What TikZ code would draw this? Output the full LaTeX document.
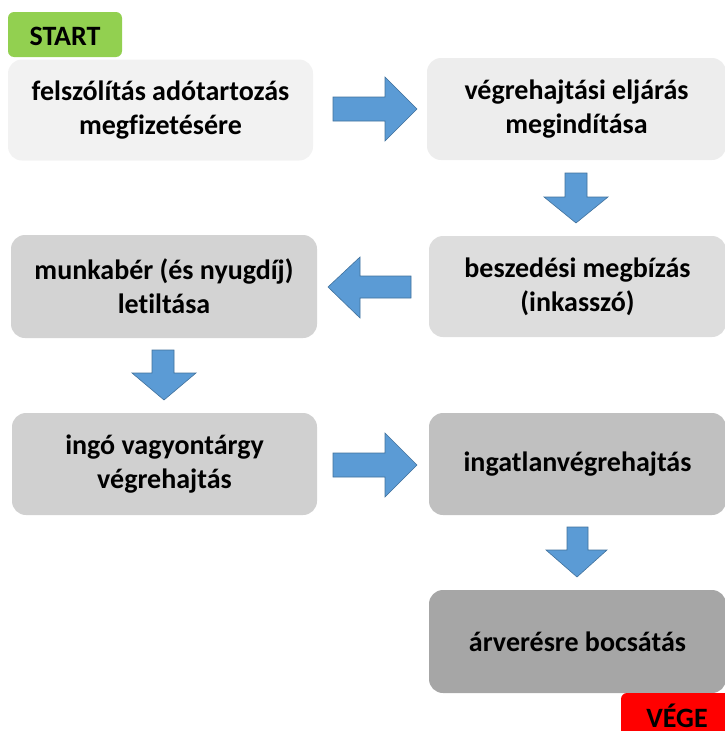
\documentclass[tikz,border=0pt]{standalone}
\usepackage{fontspec}
\setmainfont{Carlito}[Ligatures={NoCommon,NoRare}]
\definecolor{startgreen}{HTML}{92D050}
\definecolor{endred}{HTML}{FF0000}
\definecolor{arrowblue}{HTML}{5B9BD5}
\definecolor{arrowedge}{HTML}{41719C}
\definecolor{gA}{HTML}{F2F2F2}
\definecolor{gB}{HTML}{EDEDED}
\definecolor{gC}{HTML}{DDDDDD}
\definecolor{gD}{HTML}{D3D3D3}
\definecolor{gE}{HTML}{D0D0D0}
\definecolor{gF}{HTML}{C0C0C0}
\definecolor{gG}{HTML}{A6A6A6}
\begin{document}
\begin{tikzpicture}[x=1pt,y=-1pt,
  box/.style={rectangle, rounded corners=14pt, inner sep=0pt, align=center,
    font=\fontsize{28}{34}\selectfont\bfseries},
  tag/.style={rectangle, rounded corners=6pt, inner sep=0pt},
  tagtext/.style={font=\fontsize{28}{30}\selectfont\bfseries, inner sep=0pt, anchor=base, text depth=0pt},
  blockarrow/.style={fill=arrowblue, draw=arrowedge, line width=0.6pt, line join=miter}]
\useasboundingbox (0,0) rectangle (725,731);
\clip (0,0) rectangle (725,731);

% start tag
\node[tag, fill=startgreen, minimum width=114pt, minimum height=45pt] (start) at (65,34.5) {};
\node[tagtext] (starttxt) at (65,45) {START};

% boxes
\node[box, fill=gA, minimum width=305pt, minimum height=101pt] (b1) at (160.5,110)
  {felszólítás adótartozás\\megfizetésére};
\node[box, fill=gB, minimum width=299pt, minimum height=102pt] (b2) at (576.5,109)
  {végrehajtási eljárás\\megindítása};
\node[box, fill=gC, minimum width=297pt, minimum height=101pt] (b3) at (577.5,286.5)
  {beszedési megbízás\\(inkasszó)};
\node[box, fill=gD, minimum width=306pt, minimum height=103pt] (b4) at (164,286.5)
  {munkabér (és nyugdíj)\\letiltása};
\node[box, fill=gE, minimum width=305pt, minimum height=102pt] (b5) at (164.5,464)
  {ingó vagyontárgy\\végrehajtás};
\node[box, fill=gF, minimum width=297pt, minimum height=102pt] (b6) at (577.5,464)
  {ingatlanvégrehajtás};
\node[box, fill=gG, minimum width=297pt, minimum height=103pt] (b7) at (577.5,641.5)
  {árverésre bocsátás};

% end tag (clipped at the page edge)
\node[tag, fill=endred, minimum width=119pt, minimum height=52pt] (vege) at (680.5,719) {};
\node[tagtext] (vegetxt) at (677,727) {VÉGE};

% block arrows
\draw[blockarrow] (333,97)--(385,97)--(385,77)--(417,109)--(385,141)--(385,121)--(333,121)--cycle;
\draw[blockarrow] (565,173)--(587,173)--(587,197)--(608,197)--(576,223)--(544,197)--(565,197)--cycle;
\draw[blockarrow] (411,276)--(360,276)--(360,257)--(328,287)--(360,318)--(360,298)--(411,298)--cycle;
\draw[blockarrow] (152,350)--(174,350)--(174,373)--(196,373)--(164,400)--(132,373)--(152,373)--cycle;
\draw[blockarrow] (333,453)--(385,453)--(385,433)--(417,465)--(385,497)--(385,477)--(333,477)--cycle;
\draw[blockarrow] (567,527)--(588,527)--(588,550)--(607,550)--(577,577)--(546,550)--(567,550)--cycle;
\end{tikzpicture}
\end{document}
